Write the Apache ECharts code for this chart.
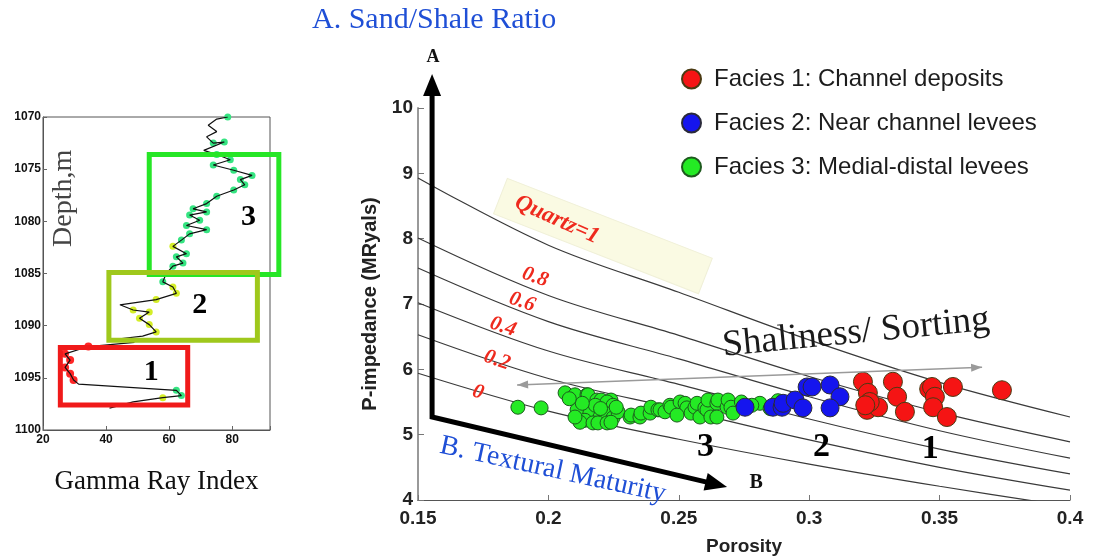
<!DOCTYPE html>
<html>
<head>
<meta charset="utf-8">
<script src="https://cdn.jsdelivr.net/npm/echarts/dist/echarts.min.js"></script>
<style>
html, body { margin: 0; padding: 0; background: #fff; }
#main { width: 1093px; height: 558px; }
</style>
</head>
<body>
<div id="main"></div>
<script>
// ---- Rock-physics template: porosity vs P-impedance ----
const facies1 = [[0.3206,5.81],[0.3225,5.64],[0.3222,5.38],[0.3264,5.42],[0.3232,5.50],[0.3215,5.45],
  [0.3321,5.81],[0.3337,5.58],[0.3367,5.35],[0.3460,5.70],[0.3471,5.73],[0.3482,5.58],[0.3475,5.42],
  [0.3528,5.27],[0.3551,5.73],[0.3739,5.68]];
const facies2 = [[0.2754,5.42],[0.2861,5.42],[0.2896,5.42],[0.2900,5.48],[0.2946,5.53],[0.2976,5.41],
  [0.2992,5.73],[0.3011,5.73],[0.3080,5.76],[0.3118,5.58],[0.3080,5.41]];
const facies3 = [[0.1883,5.42],[0.1972,5.41],[0.2064,5.64],[0.2102,5.61],[0.2148,5.61],[0.2152,5.61],
  [0.2186,5.53],[0.2202,5.53],[0.2240,5.53],[0.2225,5.50],[0.2248,5.45],[0.2113,5.38],[0.2110,5.38],
  [0.2163,5.33],[0.2159,5.33],[0.2198,5.27],[0.2217,5.33],[0.2248,5.26],[0.2267,5.35],[0.2140,5.22],
  [0.2121,5.19],[0.2171,5.18],[0.2190,5.18],[0.2225,5.18],[0.2240,5.19],[0.2102,5.27],[0.2313,5.27],
  [0.2317,5.30],[0.2351,5.27],[0.2355,5.33],[0.2390,5.33],[0.2393,5.42],[0.2420,5.38],[0.2428,5.38],
  [0.2447,5.35],[0.2466,5.45],[0.2470,5.42],[0.2505,5.50],[0.2524,5.48],[0.2531,5.41],[0.2547,5.33],
  [0.2562,5.42],[0.2570,5.48],[0.2581,5.27],[0.2600,5.41],[0.2608,5.38],[0.2612,5.53],[0.2623,5.27],
  [0.2646,5.48],[0.2650,5.53],[0.2646,5.27],[0.2685,5.42],[0.2689,5.53],[0.2700,5.42],[0.2708,5.33],
  [0.2811,5.48],[0.2493,5.30],[0.2180,5.45],[0.2130,5.48],[0.2080,5.55],[0.2200,5.40],[0.2260,5.42],
  [0.2780,5.45],[0.2740,5.50],[0.2880,5.52],[0.2850,5.40]];
const faciesNames = ['Facies 1: Channel deposits', 'Facies 2: Near channel levees', 'Facies 3: Medial-distal levees'];

// Constant-quartz trend lines (P-impedance sampled at these porosities)
const trendPorosity = [0.15, 0.20, 0.25, 0.30, 0.35, 0.40];
const trendQ100 = [8.93, 7.90, 7.18, 6.45, 5.80, 5.27];
const trendQ80  = [8.01, 7.13, 6.52, 5.89, 5.34, 4.89];
const trendQ60  = [7.55, 6.73, 6.16, 5.58, 5.06, 4.64];
const trendQ40  = [7.02, 6.28, 5.77, 5.24, 4.78, 4.40];
const trendQ20  = [6.53, 5.86, 5.39, 4.92, 4.50, 4.15];
const trendQ0   = [5.94, 5.36, 4.93, 4.55, 4.21, 3.90];
const trendLabels = ['Quartz=1', '0.8', '0.6', '0.4', '0.2', '0'];
const trendLabelAt = [[0.2033,8.29],[0.1949,7.41],[0.1899,7.03],[0.1826,6.65],[0.1803,6.14],[0.1730,5.65]];

// ---- Gamma ray log (index vs depth) ----
const grValue = [78.6,75.1,72.4,75.1,71.9,74.0,77.5,71.0,75.1,79.4,74.0,80.5,86.3,82.6,84.0,80.5,75.1,71.9,
  67.6,71.9,66.5,69.7,65.5,71.9,66.5,63.9,61.2,65.5,62.3,64.4,61.2,59.1,58.0,61.2,62.3,55.9,44.4,48.6,
  53.7,50.6,53.7,55.9,51.6,43.0,49.0,34.4,27.0,28.6,27.0,28.6,29.7,31.3,62.3,63.9,58.0,48.6,41.1];
const grDepth = [1070.0,1070.2,1070.8,1071.4,1071.9,1072.5,1072.4,1073.2,1073.6,1074.1,1074.6,1075.1,1075.6,
  1076.0,1076.5,1077.0,1077.6,1078.3,1078.8,1079.1,1079.4,1079.9,1080.4,1080.8,1081.2,1081.8,1082.4,1083.1,
  1083.4,1084.0,1084.3,1085.0,1085.8,1086.3,1086.9,1087.5,1088.0,1088.5,1088.7,1089.3,1089.9,1090.6,1091.0,
  1091.3,1091.6,1092.0,1092.7,1093.3,1094.0,1094.6,1095.2,1095.6,1096.2,1096.7,1096.9,1097.3,1097.9];
// facies code of each log sample: 0 none, 1 channel, 2 near levee, 3 medial-distal levee
const grFacies = [3,0,0,0,0,3,3,0,3,3,3,3,3,3,3,3,3,3,3,3,3,3,3,3,3,3,2,3,3,3,3,0,3,2,2,2,0,2,2,2,2,2,0,0,0,
  1,1,1,1,1,1,0,3,3,2,0,0];
// facies intervals drawn as boxes: [gamma min, depth top, gamma max, depth base]
const zoneBoxes = [[53.7,1073.6,94.8,1085.1],[40.9,1084.9,88.0,1091.4],[25.5,1092.1,65.9,1097.6]];
const zoneNames = ['3', '2', '1'];
const zoneNameAt = [[85.2,1079.6],[69.7,1088.0],[54.3,1094.5]];

const zip = (xs, ys) => xs.map((x, i) => [x, ys[i]]);
const logPoints = zip(grValue, grDepth);
const logDots = code => logPoints.filter((p, i) => grFacies[i] === code);

const SANS = 'Liberation Sans';
const SERIF = 'Liberation Serif';
const trendSets = [trendQ100, trendQ80, trendQ60, trendQ40, trendQ20, trendQ0];

const option = {
  animation: false,
  backgroundColor: '#ffffff',
  textStyle: { fontFamily: SANS },
  grid: [
    { left: 418, right: 23, top: 108, bottom: 58, containLabel: false, outerBoundsMode: 'none' },
    { left: 43, width: 227, top: 117, height: 313, containLabel: false, outerBoundsMode: 'none',
      show: true, borderColor: '#555', borderWidth: 1, backgroundColor: 'transparent' }
  ],
  xAxis: [
    { type: 'value', gridIndex: 0, min: 0.15, max: 0.4, interval: 0.05,
      name: 'Porosity', nameLocation: 'middle', nameGap: 37,
      nameTextStyle: { fontFamily: SANS, fontWeight: 'bold', fontSize: 19, color: '#222' },
      axisLine: { show: true, onZero: false, lineStyle: { color: '#555', width: 1.2 } },
      axisTick: { show: true, inside: true, length: 5, lineStyle: { color: '#777' } },
      axisLabel: { fontFamily: SANS, fontWeight: 'bold', fontSize: 19, color: '#222', margin: 9 },
      splitLine: { show: false } },
    { type: 'value', gridIndex: 1, min: 20, max: 92, interval: 20,
      name: 'Gamma Ray Index', nameLocation: 'middle', nameGap: 38,
      nameTextStyle: { fontFamily: SERIF, fontSize: 27, color: '#111' },
      axisLine: { show: true, onZero: false, lineStyle: { color: '#555', width: 1 } },
      axisTick: { show: true, inside: true, length: 4, lineStyle: { color: '#666' } },
      axisLabel: { fontFamily: SANS, fontWeight: 'bold', fontSize: 12, color: '#111', margin: 4,
        formatter: v => (v % 20 === 0 ? String(v) : '') },
      splitLine: { show: false } }
  ],
  yAxis: [
    { type: 'value', gridIndex: 0, min: 4, max: 10, interval: 1,
      name: 'P-impedance (MRyals)', nameLocation: 'middle', nameGap: 32,
      nameTextStyle: { fontFamily: SANS, fontWeight: 'bold', fontSize: 20, color: '#222' },
      axisLine: { show: true, onZero: false, lineStyle: { color: '#999', width: 2 } },
      axisTick: { show: true, inside: true, length: 6, lineStyle: { color: '#777' } },
      axisLabel: { fontFamily: SANS, fontWeight: 'bold', fontSize: 19, color: '#222', margin: 5 },
      splitLine: { show: false } },
    { type: 'value', gridIndex: 1, min: 1070, max: 1100, interval: 5, inverse: true,
      axisLine: { show: true, onZero: false, lineStyle: { color: '#555', width: 1 } },
      axisTick: { show: true, inside: true, length: 4, lineStyle: { color: '#666' } },
      axisLabel: { fontFamily: SANS, fontWeight: 'bold', fontSize: 12, color: '#111', margin: 2,
        formatter: v => String(v) },
      splitLine: { show: false } }
  ],
  legend: {
    orient: 'vertical', left: 676, top: 62, itemGap: 20, itemWidth: 19, itemHeight: 19,
    icon: 'circle', data: faciesNames,
    textStyle: { fontFamily: SANS, fontSize: 24, color: '#1c1c1c', padding: [0, 0, 0, 8] }
  },
  series: [
    ...trendSets.map((ys, k) => ({
      type: 'line', name: 'trend' + k, xAxisIndex: 0, yAxisIndex: 0, z: 1, silent: true,
      data: zip(trendPorosity, ys), smooth: 0.35, showSymbol: false, symbol: 'none',
      lineStyle: { color: '#3a3a3a', width: 1.2 }
    })),
    { type: 'scatter', name: faciesNames[0], xAxisIndex: 0, yAxisIndex: 0, z: 5, data: facies1,
      symbolSize: 19, itemStyle: { color: '#f51414', borderColor: '#4a3a12', borderWidth: 1, opacity: 1 } },
    { type: 'scatter', name: faciesNames[1], xAxisIndex: 0, yAxisIndex: 0, z: 4, data: facies2,
      symbolSize: 18, itemStyle: { color: '#1515ee', borderColor: '#2a2a3a', borderWidth: 1, opacity: 1 } },
    { type: 'scatter', name: faciesNames[2], xAxisIndex: 0, yAxisIndex: 0, z: 3, data: facies3,
      symbolSize: 14, itemStyle: { color: '#24ea24', borderColor: '#1d5a1d', borderWidth: 1, opacity: 1 } },
    { type: 'scatter', name: 'log-3', xAxisIndex: 1, yAxisIndex: 1, z: 3, data: logDots(3),
      symbolSize: 7, itemStyle: { color: '#35e481', opacity: 1 } },
    { type: 'scatter', name: 'log-2', xAxisIndex: 1, yAxisIndex: 1, z: 3, data: logDots(2),
      symbolSize: 7, itemStyle: { color: '#d4ee28', opacity: 1 } },
    { type: 'scatter', name: 'log-1', xAxisIndex: 1, yAxisIndex: 1, z: 3, data: logDots(1),
      symbolSize: 8, itemStyle: { color: '#ff2626', opacity: 1 } },
    { type: 'line', name: 'gamma', xAxisIndex: 1, yAxisIndex: 1, z: 4, data: logPoints,
      showSymbol: false, symbol: 'none', lineStyle: { color: '#111', width: 1.2 } }
  ]
};

const chart = echarts.init(document.getElementById('main'), null, { renderer: 'canvas' });
chart.setOption(option);

const toPx = (pt, idx) => chart.convertToPixel({ xAxisIndex: idx, yAxisIndex: idx }, pt);

function text(x, y, str, font, fill, rotation, align) {
  return { type: 'text', x: x, y: y, rotation: rotation || 0, z: 20,
    style: { text: str, font: font, fill: fill, align: align || 'center', verticalAlign: 'middle' } };
}
function head(tip, from, len, half, fill) {
  const dx = tip[0] - from[0], dy = tip[1] - from[1];
  const d = Math.hypot(dx, dy), ux = dx / d, uy = dy / d;
  const bx = tip[0] - ux * len, by = tip[1] - uy * len;
  return { type: 'polygon', z: 19,
    shape: { points: [[tip[0], tip[1]], [bx - uy * half, by + ux * half], [bx + uy * half, by - ux * half]] },
    style: { fill: fill } };
}
function back(tip, from, len) {
  const dx = tip[0] - from[0], dy = tip[1] - from[1];
  const d = Math.hypot(dx, dy);
  return [tip[0] - dx / d * len * 0.8, tip[1] - dy / d * len * 0.8];
}

const els = [];

// pale panel behind the quartz label
const panelC = toPx([0.2209, 8.04], 0);
els.push({ type: 'rect', x: panelC[0], y: panelC[1], rotation: -0.372, z: 0,
  shape: { x: -110, y: -19, width: 220, height: 38 },
  style: { fill: '#fafae3', stroke: '#f0f0d8', lineWidth: 1 } });

// trend line labels
trendLabels.forEach((lab, i) => {
  const p = toPx(trendLabelAt[i], 0);
  const size = i === 0 ? 23 : 21;
  els.push(text(p[0], p[1], lab, 'italic bold ' + size + 'px "' + SERIF + '"', '#ee2a1e', i === 0 ? -0.42 : -0.33));
});

// A / B axes of the template
const corner = toPx([0.1554, 5.27], 0);
const topTip = toPx([0.1554, 10.52], 0);
const rightTip = toPx([0.2685, 4.20], 0);
els.push({ type: 'polyline', z: 18,
  shape: { points: [back(topTip, corner, 22), corner, back(rightTip, corner, 22)] },
  style: { stroke: '#000', lineWidth: 5, lineJoin: 'miter', fill: null } });
els.push(head(topTip, corner, 22, 9, '#000'));
els.push(head(rightTip, corner, 22, 9, '#000'));
els.push(text(topTip[0] + 1, topTip[1] - 17, 'A', 'bold 18px "' + SERIF + '"', '#111'));
els.push(text(rightTip[0] + 29, rightTip[1] - 4, 'B', 'bold 20px "' + SERIF + '"', '#111'));

// shaliness / sorting double arrow
const sL = toPx([0.1880, 5.76], 0), sR = toPx([0.3663, 6.03], 0);
els.push({ type: 'line', z: 18, shape: { x1: sL[0], y1: sL[1], x2: sR[0], y2: sR[1] },
  style: { stroke: '#9a9a9a', lineWidth: 1.5 } });
els.push(head(sL, sR, 11, 4, '#9a9a9a'));
els.push(head(sR, sL, 11, 4, '#9a9a9a'));

// annotations of the template
els.push(text(312, 20, 'A. Sand/Shale Ratio', '30px "' + SERIF + '"', '#1f4fd6', 0, 'left'));
els.push(text(553, 470, 'B. Textural Maturity', '28px "' + SERIF + '"', '#1f4fd6', -0.215));
els.push(text(856, 333, 'Shaliness/ Sorting', '37px "' + SERIF + '"', '#1a1a1a', 0.098));
const clusterNames = ['3', '2', '1'];
const clusterAt = [[0.2602, 4.81], [0.3047, 4.81], [0.3464, 4.77]];
clusterNames.forEach((n, i) => {
  const p = toPx(clusterAt[i], 0);
  els.push(text(p[0], p[1], n, 'bold 34px "' + SERIF + '"', '#000'));
});

// gamma-ray panel: facies boxes and labels
const boxColors = ['#26e626', '#9fc81c', '#f01a1a'];
zoneBoxes.forEach((b, i) => {
  const a = toPx([b[0], b[1]], 1), c = toPx([b[2], b[3]], 1);
  els.push({ type: 'rect', z: 17,
    shape: { x: a[0], y: a[1], width: c[0] - a[0], height: c[1] - a[1] },
    style: { fill: null, stroke: boxColors[i], lineWidth: 5 } });
  const t = toPx(zoneNameAt[i], 1);
  els.push(text(t[0], t[1], zoneNames[i], 'bold 30px "' + SERIF + '"', '#000'));
});
const depthAt = toPx([26.4, 1077.8], 1);
els.push(text(depthAt[0], depthAt[1], 'Depth,m', '28px "' + SERIF + '"', '#444', Math.PI / 2));

chart.setOption({ graphic: { elements: els } });
</script>
</body>
</html>
